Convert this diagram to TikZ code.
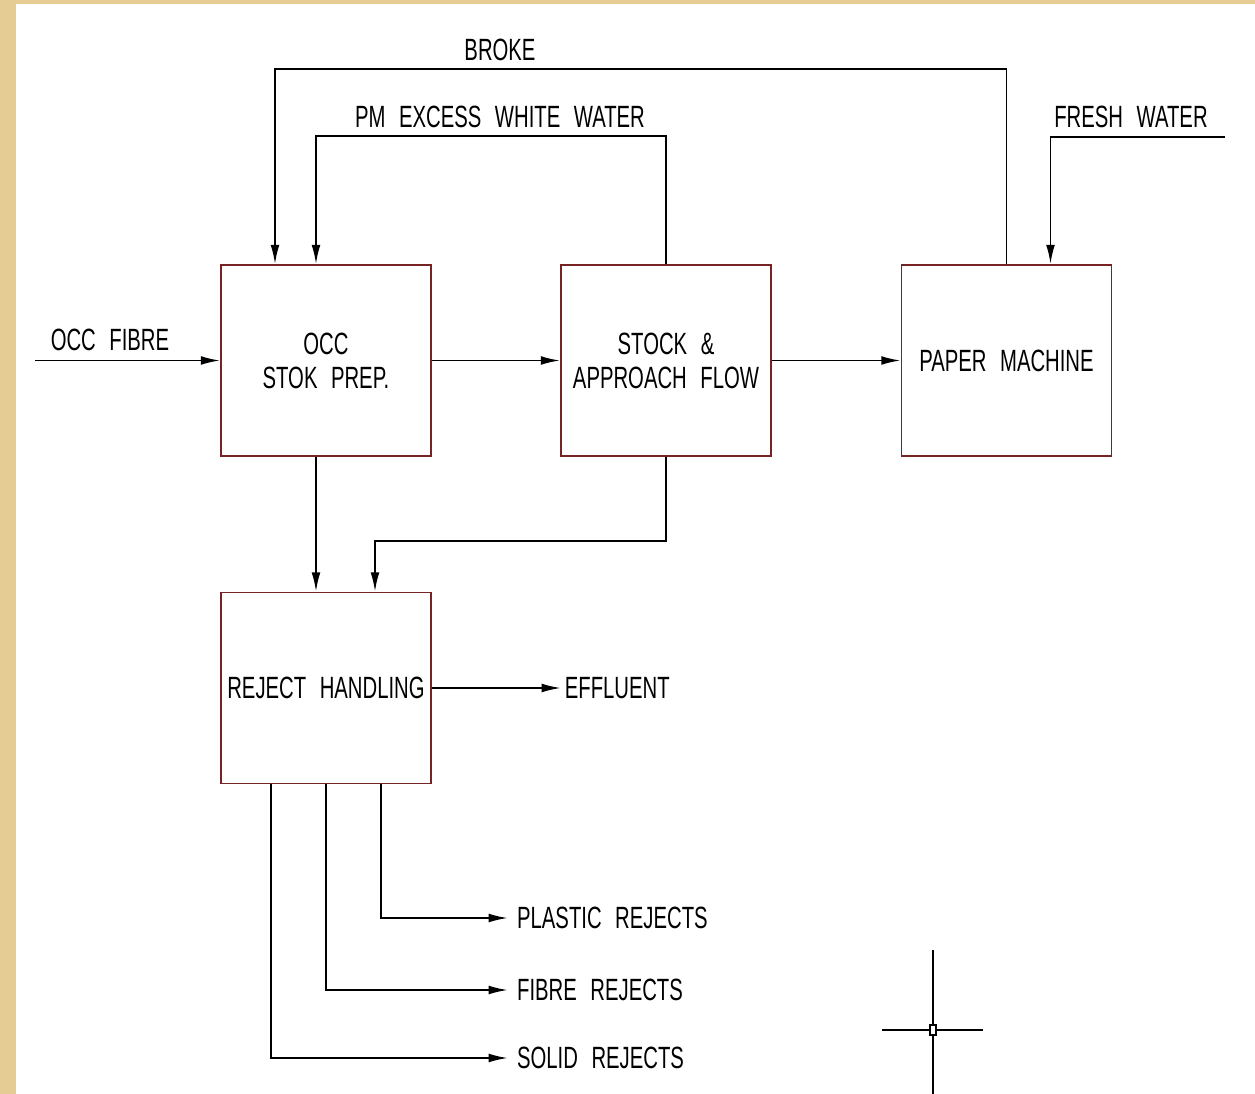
\documentclass[tikz,border=0pt]{standalone}
\usepackage{fontspec}
\setmainfont[FakeStretch=0.66,WordSpace=2.4]{Liberation Sans}
\usetikzlibrary{arrows.meta, calc}

\begin{document}
\begin{tikzpicture}[x=0.02cm, y=-0.02cm, >={Latex[length=11pt,width=5pt]}]

\definecolor{paper}{RGB}{229,204,148}
\definecolor{boxred}{RGB}{120,35,35}

% Background
\fill[paper] (0,0) rectangle (1255,1094);
\fill[white] (16,4) rectangle (1255,1094);
\useasboundingbox (0,0) rectangle (1255,1094);

\tikzset{
    unit block/.style={
        draw=boxred, line width=0.9pt, fill=white,
        rectangle, inner sep=0pt,
        minimum width=4.2cm, minimum height=3.82cm,
        align=center, font=\fontsize{17.5}{19.4}\selectfont
    },
    flow/.style={
        ->, line width=1.1pt, black
    },
    stream/.style={
        inner sep=0pt, inner xsep=5pt,
        font=\fontsize{17.5}{20}\selectfont
    }
}

% Process units
\node[unit block] (OCC) at (326,360.5) {OCC\\STOK PREP.};
\node[unit block] (SAF) at (666,360.5) {STOCK \&\\APPROACH FLOW};
\node[unit block] (PM) at (1006.5,360.5) {PAPER MACHINE};
\node[unit block] (RH) at (326,688) {REJECT HANDLING};

% Outgoing streams
\node[stream, anchor=west, inner xsep=2pt] (EFF) at (561,688) {EFFLUENT};
\node[stream, anchor=west] (PR) at (508,918) {PLASTIC REJECTS};
\node[stream, anchor=west] (FR) at (508,990) {FIBRE REJECTS};
\node[stream, anchor=west] (SR) at (508,1058) {SOLID REJECTS};

% Incoming streams
\coordinate (OCCin) at (35,360.5);
\coordinate (FWin) at (1225,137);
\node[stream] (OCClab) at (110,340) {OCC FIBRE};
\node[stream] (FWlab) at (1131,117) {FRESH WATER};
\node[stream] (BRlab) at (500,50) {BROKE};
\node[stream] (WWlab) at (500,117) {PM EXCESS WHITE WATER};

% Main line
\draw[flow] (OCCin) -- (OCC.west);
\draw[flow] (OCC.east) -- (SAF.west);
\draw[flow] (SAF.east) -- (PM.west);

% Returns to stock prep
\draw[flow] (PM.north) -- ++(0,-195) -| ($(OCC.north)+(-51,0)$);
\draw[flow] (SAF.north) -- ++(0,-128) -| ($(OCC.north)+(-10,0)$);
\draw[flow] (FWin) -| ($(PM.north)+(44,0)$);

% To reject handling
\draw[flow] ($(OCC.south)+(-10,0)$) -- ($(RH.north)+(-10,0)$);
\draw[flow] (SAF.south) -- ++(0,84) -| ($(RH.north)+(49,0)$);
\draw[flow] (RH.east) -- (EFF.west);
\draw[flow] ($(RH.south)+(55,0)$) |- (PR.west);
\draw[flow] (RH.south) |- (FR.west);
\draw[flow] ($(RH.south)+(-55,0)$) |- (SR.west);

% Cursor cross
\draw[line width=1pt] (882,1030) -- (983,1030) (933,950) -- (933,1094);
\draw[line width=0.6pt, fill=white] (930,1025) rectangle (936,1035);

\end{tikzpicture}
\end{document}
